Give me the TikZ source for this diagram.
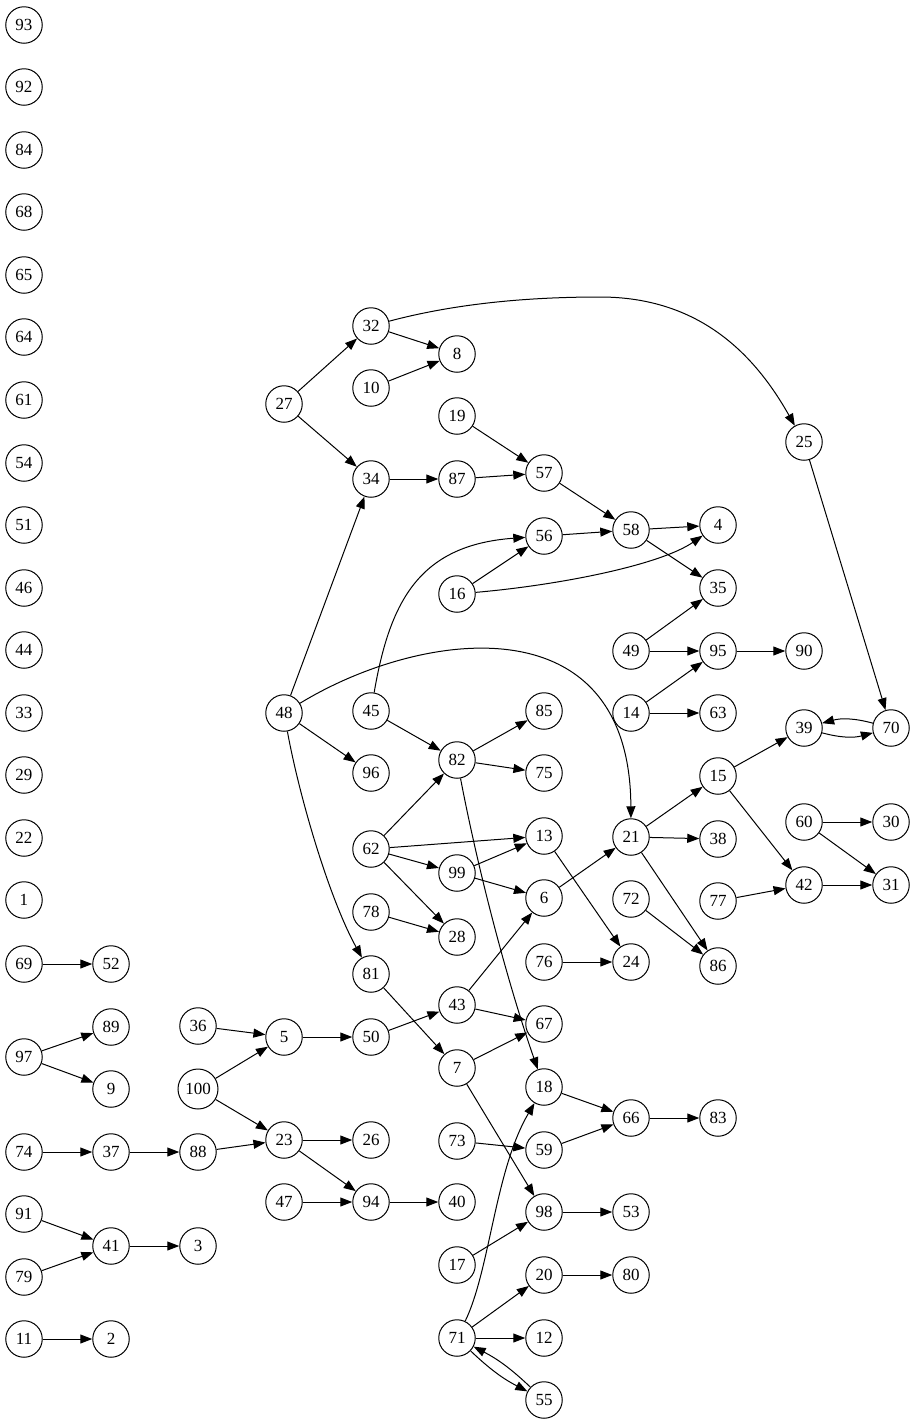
\documentclass[tikz,border=0pt]{standalone}
\usepackage{fontspec}
\setmainfont{Liberation Serif}
\usetikzlibrary{arrows.meta}
\tikzset{
  vertex/.style={circle, draw, line width=1pt, minimum size=36.5pt, inner sep=0pt, font=\fontsize{17}{19}\selectfont},
  link/.style={-{Triangle[length=12pt, width=9pt]}, line width=1pt}
}
\begin{document}
\begin{tikzpicture}[x=1pt, y=-1pt]
  \useasboundingbox (0,0) rectangle (916,1425);
  % Nodes
  \node (N93) [vertex] at (24, 25) {93};
  \node (N92) [vertex] at (24, 87) {92};
  \node (N84) [vertex] at (24, 150) {84};
  \node (N68) [vertex] at (24, 212) {68};
  \node (N65) [vertex] at (24, 275) {65};
  \node (N64) [vertex] at (24, 337) {64};
  \node (N61) [vertex] at (24, 400) {61};
  \node (N54) [vertex] at (24, 463) {54};
  \node (N51) [vertex] at (24, 525) {51};
  \node (N46) [vertex] at (24, 588) {46};
  \node (N44) [vertex] at (24, 650) {44};
  \node (N33) [vertex] at (24, 713) {33};
  \node (N29) [vertex] at (24, 775) {29};
  \node (N22) [vertex] at (24, 838) {22};
  \node (N1) [vertex] at (24, 900) {1};
  \node (N69) [vertex] at (24, 964) {69};
  \node (N97) [vertex] at (24, 1057) {97};
  \node (N74) [vertex] at (24, 1152) {74};
  \node (N91) [vertex] at (24, 1214) {91};
  \node (N79) [vertex] at (24, 1277) {79};
  \node (N11) [vertex] at (24, 1339) {11};
  \node (N52) [vertex] at (111, 964) {52};
  \node (N89) [vertex] at (111, 1027) {89};
  \node (N9) [vertex] at (111, 1089) {9};
  \node (N37) [vertex] at (111, 1152) {37};
  \node (N41) [vertex] at (111, 1246) {41};
  \node (N2) [vertex] at (111, 1339) {2};
  \node (N36) [vertex] at (198, 1026) {36};
  \node (N100) [vertex, minimum size=40pt] at (198, 1089) {100};
  \node (N88) [vertex] at (198, 1152) {88};
  \node (N3) [vertex] at (198, 1246) {3};
  \node (N27) [vertex] at (284, 404) {27};
  \node (N48) [vertex] at (284, 713) {48};
  \node (N5) [vertex] at (284, 1037) {5};
  \node (N23) [vertex] at (284, 1140) {23};
  \node (N47) [vertex] at (284, 1202) {47};
  \node (N32) [vertex] at (371, 326) {32};
  \node (N10) [vertex] at (371, 388) {10};
  \node (N34) [vertex] at (371, 479) {34};
  \node (N45) [vertex] at (371, 711) {45};
  \node (N96) [vertex] at (371, 773) {96};
  \node (N62) [vertex] at (371, 849) {62};
  \node (N78) [vertex] at (371, 912) {78};
  \node (N81) [vertex] at (371, 974) {81};
  \node (N50) [vertex] at (371, 1037) {50};
  \node (N26) [vertex] at (371, 1140) {26};
  \node (N94) [vertex] at (371, 1202) {94};
  \node (N8) [vertex] at (457, 354) {8};
  \node (N19) [vertex] at (457, 416) {19};
  \node (N87) [vertex] at (457, 479) {87};
  \node (N16) [vertex] at (457, 594) {16};
  \node (N82) [vertex] at (457, 760) {82};
  \node (N99) [vertex] at (457, 873) {99};
  \node (N28) [vertex] at (457, 937) {28};
  \node (N43) [vertex] at (457, 1005) {43};
  \node (N7) [vertex] at (457, 1068) {7};
  \node (N73) [vertex] at (457, 1141) {73};
  \node (N40) [vertex] at (457, 1202) {40};
  \node (N17) [vertex] at (457, 1265) {17};
  \node (N71) [vertex] at (457, 1338) {71};
  \node (N57) [vertex] at (544, 473) {57};
  \node (N56) [vertex] at (544, 536) {56};
  \node (N85) [vertex] at (544, 711) {85};
  \node (N75) [vertex] at (544, 773) {75};
  \node (N13) [vertex] at (544, 836) {13};
  \node (N6) [vertex] at (544, 898) {6};
  \node (N76) [vertex] at (544, 962) {76};
  \node (N67) [vertex] at (544, 1024) {67};
  \node (N18) [vertex] at (544, 1087) {18};
  \node (N59) [vertex] at (544, 1150) {59};
  \node (N98) [vertex] at (544, 1212) {98};
  \node (N20) [vertex] at (544, 1275) {20};
  \node (N12) [vertex] at (544, 1338) {12};
  \node (N55) [vertex] at (544, 1400) {55};
  \node (N58) [vertex] at (631, 530) {58};
  \node (N49) [vertex] at (631, 651) {49};
  \node (N14) [vertex] at (631, 713) {14};
  \node (N21) [vertex] at (631, 837) {21};
  \node (N72) [vertex] at (631, 899) {72};
  \node (N24) [vertex] at (631, 962) {24};
  \node (N66) [vertex] at (631, 1118) {66};
  \node (N53) [vertex] at (631, 1212) {53};
  \node (N80) [vertex] at (631, 1275) {80};
  \node (N4) [vertex] at (718, 525) {4};
  \node (N35) [vertex] at (718, 588) {35};
  \node (N95) [vertex] at (718, 651) {95};
  \node (N63) [vertex] at (718, 713) {63};
  \node (N15) [vertex] at (718, 776) {15};
  \node (N38) [vertex] at (718, 839) {38};
  \node (N77) [vertex] at (718, 901) {77};
  \node (N86) [vertex] at (718, 966) {86};
  \node (N83) [vertex] at (718, 1118) {83};
  \node (N25) [vertex] at (804, 442) {25};
  \node (N90) [vertex] at (804, 651) {90};
  \node (N39) [vertex] at (804, 728) {39};
  \node (N60) [vertex] at (804, 822) {60};
  \node (N42) [vertex] at (804, 885) {42};
  \node (N70) [vertex] at (891, 728) {70};
  \node (N30) [vertex] at (891, 822) {30};
  \node (N31) [vertex] at (891, 885) {31};
  % Arrows
  \draw[link] (N27) -- (N32);
  \draw[link] (N27) -- (N34);
  \draw[link] (N32) -- (N8);
  \draw[link] (N10) -- (N8);
  \draw[link] (N32) .. controls (450, 305) and (520, 297) .. (600, 297) .. controls (700, 297) and (755, 355) .. (N25);
  \draw[link] (N34) -- (N87);
  \draw[link] (N87) -- (N57);
  \draw[link] (N19) -- (N57);
  \draw[link] (N57) -- (N58);
  \draw[link] (N56) -- (N58);
  \draw[link] (N58) -- (N4);
  \draw[link] (N58) -- (N35);
  \draw[link] (N16) -- (N56);
  \draw[link] (N16) .. controls (560, 585) and (660, 565) .. (N4);
  \draw[link] (N45) .. controls (390, 600) and (420, 545) .. (N56);
  \draw[link] (N49) -- (N35);
  \draw[link] (N49) -- (N95);
  \draw[link] (N95) -- (N90);
  \draw[link] (N14) -- (N95);
  \draw[link] (N14) -- (N63);
  \draw[link] (N48) -- (N34);
  \draw[link] (N48) .. controls (420, 630) and (630, 600) .. (N21);
  \draw[link] (N48) -- (N96);
  \draw[link] (N48) .. controls (300, 800) and (330, 900) .. (N81);
  \draw[link] (N45) -- (N82);
  \draw[link] (N82) -- (N85);
  \draw[link] (N82) -- (N75);
  \draw[link] (N82) .. controls (480, 880) and (510, 990) .. (N18);
  \draw[link] (N62) -- (N82);
  \draw[link] (N62) -- (N13);
  \draw[link] (N62) -- (N99);
  \draw[link] (N62) -- (N28);
  \draw[link] (N99) -- (N13);
  \draw[link] (N99) -- (N6);
  \draw[link] (N78) -- (N28);
  \draw[link] (N13) -- (N24);
  \draw[link] (N6) -- (N21);
  \draw[link] (N21) -- (N15);
  \draw[link] (N21) -- (N38);
  \draw[link] (N21) -- (N86);
  \draw[link] (N15) -- (N39);
  \draw[link] (N15) -- (N42);
  \draw[link] (N39) to[bend right=15] (N70);
  \draw[link] (N70) to[bend right=15] (N39);
  \draw[link] (N25) -- (N70);
  \draw[link] (N60) -- (N30);
  \draw[link] (N60) -- (N31);
  \draw[link] (N77) -- (N42);
  \draw[link] (N42) -- (N31);
  \draw[link] (N72) -- (N86);
  \draw[link] (N76) -- (N24);
  \draw[link] (N81) -- (N7);
  \draw[link] (N43) -- (N6);
  \draw[link] (N43) -- (N67);
  \draw[link] (N7) -- (N67);
  \draw[link] (N7) -- (N98);
  \draw[link] (N50) -- (N43);
  \draw[link] (N5) -- (N50);
  \draw[link] (N36) -- (N5);
  \draw[link] (N100) -- (N5);
  \draw[link] (N100) -- (N23);
  \draw[link] (N88) -- (N23);
  \draw[link] (N37) -- (N88);
  \draw[link] (N74) -- (N37);
  \draw[link] (N23) -- (N26);
  \draw[link] (N23) -- (N94);
  \draw[link] (N47) -- (N94);
  \draw[link] (N94) -- (N40);
  \draw[link] (N18) -- (N66);
  \draw[link] (N59) -- (N66);
  \draw[link] (N66) -- (N83);
  \draw[link] (N73) -- (N59);
  \draw[link] (N17) -- (N98);
  \draw[link] (N98) -- (N53);
  \draw[link] (N71) .. controls (490, 1270) and (495, 1170) .. (N18);
  \draw[link] (N71) -- (N20);
  \draw[link] (N71) -- (N12);
  \draw[link] (N71) to[bend right=8] (N55);
  \draw[link] (N55) to[bend right=8] (N71);
  \draw[link] (N20) -- (N80);
  \draw[link] (N97) -- (N89);
  \draw[link] (N97) -- (N9);
  \draw[link] (N69) -- (N52);
  \draw[link] (N91) -- (N41);
  \draw[link] (N79) -- (N41);
  \draw[link] (N41) -- (N3);
  \draw[link] (N11) -- (N2);
\end{tikzpicture}
\end{document}
